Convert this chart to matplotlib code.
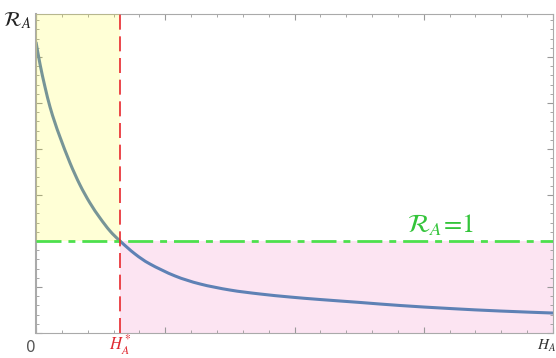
import numpy as np
import matplotlib
matplotlib.use("Agg")
import matplotlib.pyplot as plt
from matplotlib.path import Path
from matplotlib.patches import PathPatch

plt.rcParams['mathtext.fontset'] = 'stix'

# curve: H_A (0..1) and R_A
h_a = [0.0, 0.0077, 0.0174, 0.0271, 0.0368, 0.0464, 0.0658, 0.0851, 0.1044,
       0.1238, 0.1431, 0.1625, 0.1915, 0.2205, 0.2689, 0.3172, 0.3752, 0.4333,
       0.4913, 0.5493, 0.6267, 0.7041, 0.8008, 0.8975, 1.0]
r_a = [3.163, 2.924, 2.674, 2.457, 2.283, 2.130, 1.848, 1.609, 1.413,
       1.250, 1.109, 1.0, 0.859, 0.750, 0.620, 0.533, 0.467, 0.424,
       0.391, 0.364, 0.332, 0.299, 0.266, 0.239, 0.217]
h_star = 0.1625
r_threshold = 1.0
x_max = 1.0
y_max = 3.467


def smooth_path(ax, xs, ys):
    # catmull-rom through the points, drawn as cubic beziers in display space
    pts = ax.transData.transform(np.column_stack([xs, ys]))
    verts = [pts[0]]
    codes = [Path.MOVETO]
    n = len(pts)
    for i in range(n - 1):
        p0 = pts[max(i - 1, 0)]
        p1 = pts[i]
        p2 = pts[i + 1]
        p3 = pts[min(i + 2, n - 1)]
        verts += [p1 + (p2 - p0) / 6, p2 - (p3 - p1) / 6, p2]
        codes += [Path.CURVE4] * 3
    return Path(verts, codes)


def main():
    fig = plt.figure(figsize=(5.56, 3.58), dpi=100)
    ax = fig.add_axes([36 / 556, 25 / 358, 517 / 556, 319 / 358])
    ax.set_xlim(0, x_max)
    ax.set_ylim(0, y_max)

    ax.fill_between([h_star, x_max], 0, r_threshold, color="#fce4f2", lw=0, zorder=1)
    curve = PathPatch(smooth_path(ax, h_a, r_a), transform=None, fill=False,
                      edgecolor="#5e81b5", lw=2.2, zorder=2)
    ax.add_artist(curve)
    ax.fill_between([0, h_star], r_threshold, y_max, color=(1, 1, 0), alpha=0.16,
                    lw=0, zorder=3)
    ax.axhline(r_threshold, color="#4de04d", lw=2, dashes=(9, 2.5, 2.5, 2.5), zorder=4)
    ax.axvline(h_star, color="#e8282d", lw=1.2, dashes=(9, 4), zorder=4)

    ax.set_xticks(np.arange(0, 1.001, 0.25))
    ax.set_xticks(np.arange(0, 1.001, 0.05), minor=True)
    ax.set_yticks(np.arange(0, 3.5, 0.5))
    ax.set_yticks(np.arange(0, 3.5, 0.1), minor=True)
    ax.tick_params(which="both", direction="in", top=True, right=True,
                   labelbottom=False, labelleft=False, color="#999999")
    ax.tick_params(which="major", length=4, width=0.8)
    ax.tick_params(which="minor", length=2.5, width=0.6)
    for s in ax.spines.values():
        s.set_color("#aaaaaa")
        s.set_linewidth(0.8)
    ax.spines["left"].set_linewidth(1.5)

    fig.text(3 / 556, 1 - 26 / 358, r"$\mathcal{R}_A$", fontsize=15, color="#222222")
    fig.text(407 / 556, 1 - 232 / 358, r"$\mathcal{R}_A\!=\!1$", fontsize=19,
             color="#33c43a")
    fig.text(31 / 556, 1 - 348 / 358, "0", fontsize=11, color="#555555",
             ha="center", va="center")
    fig.text(120 / 556, 1 - 345 / 358, r"$H_A^*$", fontsize=12, color="#e02830",
             ha="center", va="center")
    fig.text(537 / 556, 1 - 346 / 358, r"$H_A$", fontsize=11, color="#333333",
             ha="left", va="center")

    fig.savefig("out.png", dpi=100)


if __name__ == "__main__":
    main()
